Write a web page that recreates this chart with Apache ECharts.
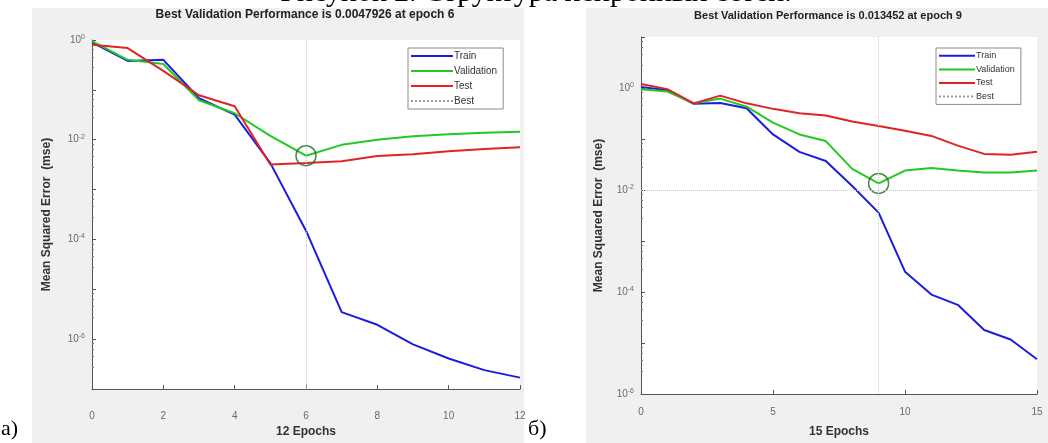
<!DOCTYPE html>
<html>
<head>
<meta charset="utf-8">
<script src="https://cdn.jsdelivr.net/npm/echarts@6/dist/echarts.min.js"></script>
<style>
html,body{margin:0;padding:0;background:#fff;}
#c{width:1048px;height:443px;}
</style>
</head>
<body>
<div id="c"></div>
<script>
// ---- Data: chart (а) ----
const epochsA = [0,1,2,3,4,5,6,7,8,9,10,11,12];
const trainA = [0.9, 0.38, 0.40, 0.068, 0.032, 0.0034, 1.5e-4, 3.5e-6, 1.95e-6, 7.9e-7, 4.1e-7, 2.4e-7, 1.7e-7];
const valA   = [0.95, 0.40, 0.33, 0.062, 0.034, 0.012, 0.0047926, 0.0079, 0.010, 0.0117, 0.0129, 0.0138, 0.0145];
const testA  = [0.80, 0.69, 0.24, 0.078, 0.047, 0.0032, 0.0034, 0.0037, 0.0047, 0.0051, 0.0059, 0.0065, 0.0071];
const bestEpochA = 6, bestValA = 0.0047926;
const titleA = 'Best Validation Performance is 0.0047926 at epoch 6';
const xNameA = '12 Epochs';

// ---- Data: chart (б) ----
const epochsB = [0,1,2,3,4,5,6,7,8,9,10,11,12,13,14,15];
const trainB = [1.05, 0.90, 0.49, 0.51, 0.40, 0.123, 0.056, 0.037, 0.012, 0.0036, 2.5e-4, 8.9e-5, 5.6e-5, 1.8e-5, 1.17e-5, 4.8e-6];
const valB   = [0.95, 0.85, 0.50, 0.62, 0.43, 0.21, 0.123, 0.091, 0.026, 0.013452, 0.024, 0.027, 0.024, 0.022, 0.022, 0.024];
const testB  = [1.20, 0.95, 0.50, 0.71, 0.50, 0.39, 0.32, 0.29, 0.22, 0.18, 0.145, 0.115, 0.074, 0.051, 0.049, 0.056];
const bestEpochB = 9, bestValB = 0.013452;
const titleB = 'Best Validation Performance is 0.013452 at epoch 9';
const xNameB = '15 Epochs';

const yName = 'Mean Squared Error  (mse)';
const legendNames = ['Train','Validation','Test','Best'];
const caption = 'Рисунок 2. Структура нейронных сетей.';
const panelA = 'а)', panelB = 'б)';

const C_TRAIN = '#1c1ce0', C_VAL = '#22c922', C_TEST = '#e02424', C_BEST = '#9a9a9a';
const FONT = 'Liberation Sans, Arial, sans-serif';

function pairs(xs, ys){ return xs.map((x,i)=>[x, ys[i]]); }
function logLabel(v){
  const e = Math.round(Math.log10(v));
  if (e % 2 !== 0) return '';
  return '10{s|' + e + '}';
}
const yLabelStyle = {
  formatter: logLabel, color:'#6a6a6a', fontSize:10, fontFamily:FONT,
  rich:{ s:{ fontSize:7, verticalAlign:'top', padding:[0,0,6,0], color:'#6a6a6a', fontFamily:FONT } }
};

function makeSeries(gi, xs, tr, va, te, bx, bv){
  const common = {type:'line', xAxisIndex:gi, yAxisIndex:gi, symbol:'none', animation:false, z:3};
  return [
    Object.assign({name:'Train', data:pairs(xs,tr), lineStyle:{color:C_TRAIN,width:2}, itemStyle:{color:C_TRAIN}}, common),
    Object.assign({name:'Validation', data:pairs(xs,va), lineStyle:{color:C_VAL,width:2}, itemStyle:{color:C_VAL}}, common),
    Object.assign({name:'Test', data:pairs(xs,te), lineStyle:{color:C_TEST,width:2}, itemStyle:{color:C_TEST}}, common),
    {name:'Best', type:'line', xAxisIndex:gi, yAxisIndex:gi, symbol:'none', animation:false, z:1,
      data:[], lineStyle:{color:C_BEST,width:1,type:'dotted'}, itemStyle:{color:C_BEST},
      markLine:{silent:true, symbol:'none', animation:false, label:{show:false},
        lineStyle:{color:'#c8c8c8', width:1, type:'dotted'},
        data:[{xAxis:bx},{yAxis:bv}]}},
    {name:'BestPoint', type:'scatter', xAxisIndex:gi, yAxisIndex:gi, animation:false, z:4,
      data:[[bx,bv]], symbol:'circle', symbolSize:20,
      itemStyle:{color:'rgba(0,0,0,0)', borderColor:'#1f6e1f', borderWidth:1.5}}
  ];
}

const legendCommon = {orient:'vertical', itemHeight:12, padding:[3,6,3,2], borderColor:'#8a8a8a', borderWidth:1,
  backgroundColor:'#fff', selectedMode:false, itemStyle:{opacity:0, borderWidth:0}};

const chart = echarts.init(document.getElementById('c'), null, {renderer:'canvas'});
chart.setOption({
  backgroundColor:'#ffffff',
  animation:false,
  graphic:[
    {type:'rect', z:-100, shape:{x:32,y:8,width:492,height:435}, style:{fill:'#f0f0f0'}, silent:true},
    {type:'rect', z:-100, shape:{x:586,y:8,width:462,height:435}, style:{fill:'#f0f0f0'}, silent:true},
    {type:'text', x:536, y:-22, style:{text:caption, textAlign:'center', font:'30px "Liberation Serif", serif', fill:'#000'}},
    {type:'text', left:1, top:418, style:{text:panelA, font:'22px "Liberation Serif", serif', fill:'#000'}},
    {type:'text', left:528, top:418, style:{text:panelB, font:'22px "Liberation Serif", serif', fill:'#000'}}
  ],
  title:[
    {text:titleA, left:300, top:4, textAlign:'center', textStyle:{fontSize:12, fontWeight:'bold', color:'#222', fontFamily:FONT}},
    {text:titleB, left:823, top:5, textAlign:'center', textStyle:{fontSize:11, fontWeight:'bold', color:'#222', fontFamily:FONT}}
  ],
  legend:[
    Object.assign({data:legendNames, left:408, top:48, itemWidth:42, itemGap:5,
      textStyle:{fontSize:10, color:'#333', fontFamily:FONT, padding:[0,0,0,-4]}}, legendCommon),
    Object.assign({data:legendNames, left:936, top:48, itemWidth:36, itemGap:4,
      textStyle:{fontSize:9, color:'#333', fontFamily:FONT, padding:[0,0,0,-4]}}, legendCommon)
  ],
  grid:[
    {left:92, top:40, width:428, height:353, show:true, backgroundColor:'#fff', borderWidth:0},
    {left:641, top:37, width:396, height:358, show:true, backgroundColor:'#fff', borderWidth:0}
  ],
  xAxis:[
    {type:'value', gridIndex:0, min:0, max:12, interval:2, name:xNameA, nameLocation:'middle', nameGap:33,
     nameTextStyle:{fontSize:12, fontWeight:'bold', color:'#333', fontFamily:FONT},
     axisLine:{lineStyle:{color:'#555'}}, axisTick:{inside:true, length:4, lineStyle:{color:'#555'}},
     axisLabel:{color:'#6a6a6a', fontSize:10, margin:22, fontFamily:FONT}, splitLine:{show:false}},
    {type:'value', gridIndex:1, min:0, max:15, interval:5, name:xNameB, nameLocation:'middle', nameGap:32,
     nameTextStyle:{fontSize:12, fontWeight:'bold', color:'#333', fontFamily:FONT},
     axisLine:{lineStyle:{color:'#555'}}, axisTick:{inside:true, length:4, lineStyle:{color:'#555'}},
     axisLabel:{color:'#6a6a6a', fontSize:10, margin:13, fontFamily:FONT}, splitLine:{show:false}}
  ],
  yAxis:[
    {type:'log', logBase:10, gridIndex:0, min:1e-7, max:1, interval:1, name:yName, nameLocation:'middle', nameGap:39,
     nameTextStyle:{fontSize:12, fontWeight:'bold', color:'#333', fontFamily:FONT},
     axisLine:{show:true, lineStyle:{color:'#555'}}, axisTick:{inside:true, length:4, lineStyle:{color:'#555'}},
     minorTick:{show:true, splitNumber:5, length:2, lineStyle:{color:'#777'}},
     axisLabel:Object.assign({margin:7}, yLabelStyle), splitLine:{show:false}},
    {type:'log', logBase:10, gridIndex:1, min:1e-6, max:10, interval:1, name:yName, nameLocation:'middle', nameGap:36,
     nameTextStyle:{fontSize:12, fontWeight:'bold', color:'#333', fontFamily:FONT},
     axisLine:{show:true, lineStyle:{color:'#555'}}, axisTick:{inside:true, length:4, lineStyle:{color:'#555'}},
     minorTick:{show:true, splitNumber:5, length:2, lineStyle:{color:'#777'}},
     axisLabel:Object.assign({margin:7}, yLabelStyle), splitLine:{show:false}}
  ],
  series:[].concat(
    makeSeries(0, epochsA, trainA, valA, testA, bestEpochA, bestValA),
    makeSeries(1, epochsB, trainB, valB, testB, bestEpochB, bestValB)
  )
});
</script>
</body>
</html>
